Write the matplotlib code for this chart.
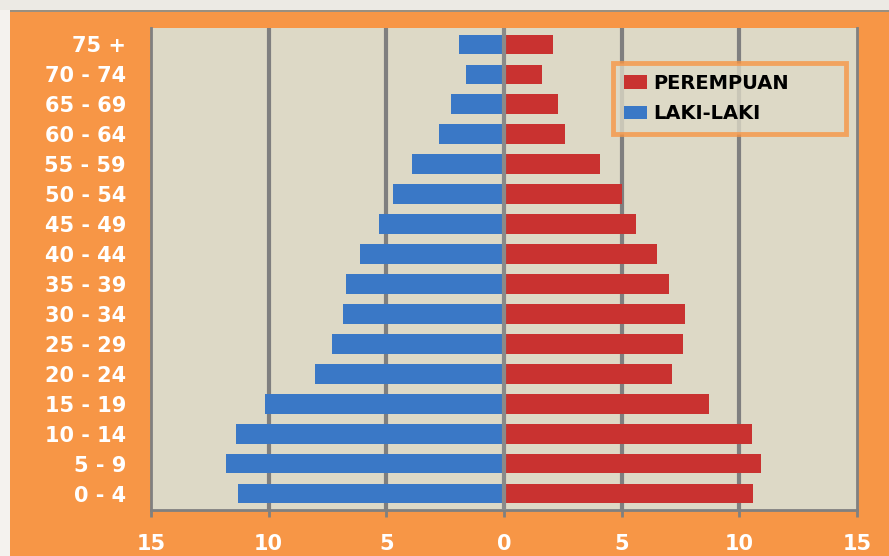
import matplotlib
matplotlib.use("Agg")
import matplotlib.pyplot as plt
from matplotlib.patches import Rectangle

categories = ["0 - 4", "5 - 9", "10 - 14", "15 - 19", "20 - 24", "25 - 29", "30 - 34",
              "35 - 39", "40 - 44", "45 - 49", "50 - 54", "55 - 59", "60 - 64",
              "65 - 69", "70 - 74", "75 +"]
laki = [11.3, 11.8, 11.4, 10.15, 8.05, 7.3, 6.85, 6.7, 6.1, 5.3, 4.7, 3.9, 2.75, 2.25, 1.6, 1.9]
perempuan = [10.6, 10.9, 10.55, 8.7, 7.15, 7.6, 7.7, 7.0, 6.5, 5.6, 5.0, 4.1, 2.6, 2.3, 1.6, 2.1]
xticks = [-15, -10, -5, 0, 5, 10, 15]
xticklabels = ["15", "10", "5", "0", "5", "10", "15"]

orange = "#F79646"
fig = plt.figure(figsize=(8.89, 5.56), dpi=100)
fig.patch.set_facecolor(orange)
fig.patches.append(Rectangle((0, 1 - 10/556), 1, 10/556, transform=fig.transFigure,
                             facecolor="#ECEAE4", edgecolor="none", zorder=0))
fig.patches.append(Rectangle((0, 1 - 12/556), 1, 2/556, transform=fig.transFigure,
                             facecolor="#9A8F80", edgecolor="none", zorder=0))
fig.patches.append(Rectangle((0, 0), 10/889, 1 - 10/556, transform=fig.transFigure,
                             facecolor="#F4F2EE", edgecolor="none", zorder=0))

ax = fig.add_axes([151/889, 1 - 510/556, (857 - 151)/889, (510 - 28)/556])
ax.set_facecolor("#DDD9C6")
y = list(range(len(categories)))
h = 0.66
ax.barh(y, [-v for v in laki], height=h, color="#3A78C6", edgecolor="none",
        label="LAKI-LAKI", zorder=3)
ax.barh(y, perempuan, height=h, color="#C93230", edgecolor="none",
        label="PEREMPUAN", zorder=3)

ax.set_xlim(-15, 15)
ax.set_ylim(-0.55, len(categories) - 0.45)
ax.set_xticks(xticks)
ax.set_xticklabels(xticklabels)
ax.set_yticks(y)
ax.set_yticklabels(categories)
for gx in [-10, -5, 5, 10]:
    ax.axvline(gx, color="#7F7F7F", linewidth=3, zorder=2)
ax.axvline(0, color="#8A8A8A", linewidth=3, zorder=4)
ax.spines["top"].set_visible(False)
for s in ["left", "bottom", "right"]:
    ax.spines[s].set_color("#808080")
    ax.spines[s].set_linewidth(2)
ax.tick_params(axis="y", length=0, pad=18, labelsize=15, labelcolor="white")
ax.tick_params(axis="x", length=5, width=2, color="#808080", pad=12,
               labelsize=15, labelcolor="white")
for t in ax.get_xticklabels() + ax.get_yticklabels():
    t.set_fontweight("bold")

handles, labels = ax.get_legend_handles_labels()
lx0 = (613 - 151) / 706
lw = (846 - 613) / 706
ly1 = 1 - (63 - 28) / 482
lh = (135 - 63) / 482
leg = ax.legend(handles[::-1], labels[::-1], loc="upper left",
                bbox_to_anchor=(lx0, ly1 - lh, lw, lh), mode="expand",
                frameon=True, fancybox=False, facecolor="#DDD9C6",
                edgecolor=orange, prop={"weight": "bold", "size": 14},
                handlelength=1.2, handleheight=0.7, handletextpad=0.3,
                borderpad=0.55, labelspacing=0.6, borderaxespad=0)
leg.get_frame().set_linewidth(3.5)
leg.set_zorder(5)

fig.savefig("out.png", dpi=100, facecolor=fig.get_facecolor())
